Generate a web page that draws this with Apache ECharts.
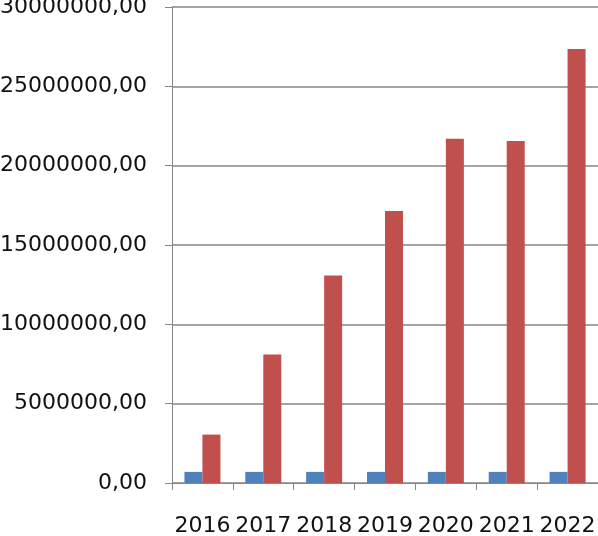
<!DOCTYPE html>
<html>
<head>
<meta charset="utf-8">
<script src="https://cdn.jsdelivr.net/npm/echarts@6/dist/echarts.min.js"></script>
<style>
  html, body { margin: 0; padding: 0; background: #fff; }
  #chart { width: 598px; height: 536px; }
</style>
</head>
<body>
<div id="chart"></div>
<script>
// values
var years = ['2016', '2017', '2018', '2019', '2020', '2021', '2022']
var blueSeries = [700000, 700000, 700000, 700000, 700000, 700000, 700000]
var redSeries = [3050000, 8100000, 13080000, 17150000, 21700000, 21550000, 27350000]
var yTicks = [0, 5000000, 10000000, 15000000, 20000000, 25000000, 30000000]

var mycharts = echarts.init(document.getElementById('chart'))
var axisColor = '#868686'
var font = 'DejaVu Sans'

mycharts.setOption({
  animation: false,
  grid: {
    left: 172,
    right: 0,
    top: 7,
    bottom: 53,
    outerBoundsMode: 'none'
  },
  xAxis: {
    type: 'category',
    data: years,
    axisLine: { lineStyle: { color: axisColor, width: 1 } },
    axisTick: { show: true, length: 7, lineStyle: { color: axisColor } },
    axisLabel: {
      interval: 0,
      margin: 32,
      color: '#111',
      fontFamily: font,
      fontSize: 22
    }
  },
  yAxis: {
    type: 'value',
    min: yTicks[0],
    max: yTicks[yTicks.length - 1],
    interval: yTicks[1] - yTicks[0],
    axisLine: { show: true, lineStyle: { color: axisColor, width: 1 } },
    axisTick: { show: true, length: 7, lineStyle: { color: axisColor } },
    splitLine: { lineStyle: { color: axisColor, width: 1.5 } },
    axisLabel: {
      margin: 25,
      color: '#111',
      fontFamily: font,
      fontSize: 22,
      formatter: function (v) {
        return v.toFixed(2).replace('.', ',')
      }
    }
  },
  series: [
    {
      type: 'bar',
      data: blueSeries,
      barWidth: 18,
      barGap: '0%',
      itemStyle: { color: '#4F81BD' }
    },
    {
      type: 'bar',
      data: redSeries,
      barWidth: 18,
      barGap: '0%',
      itemStyle: { color: '#C0504D' }
    }
  ]
})
</script>
</body>
</html>
